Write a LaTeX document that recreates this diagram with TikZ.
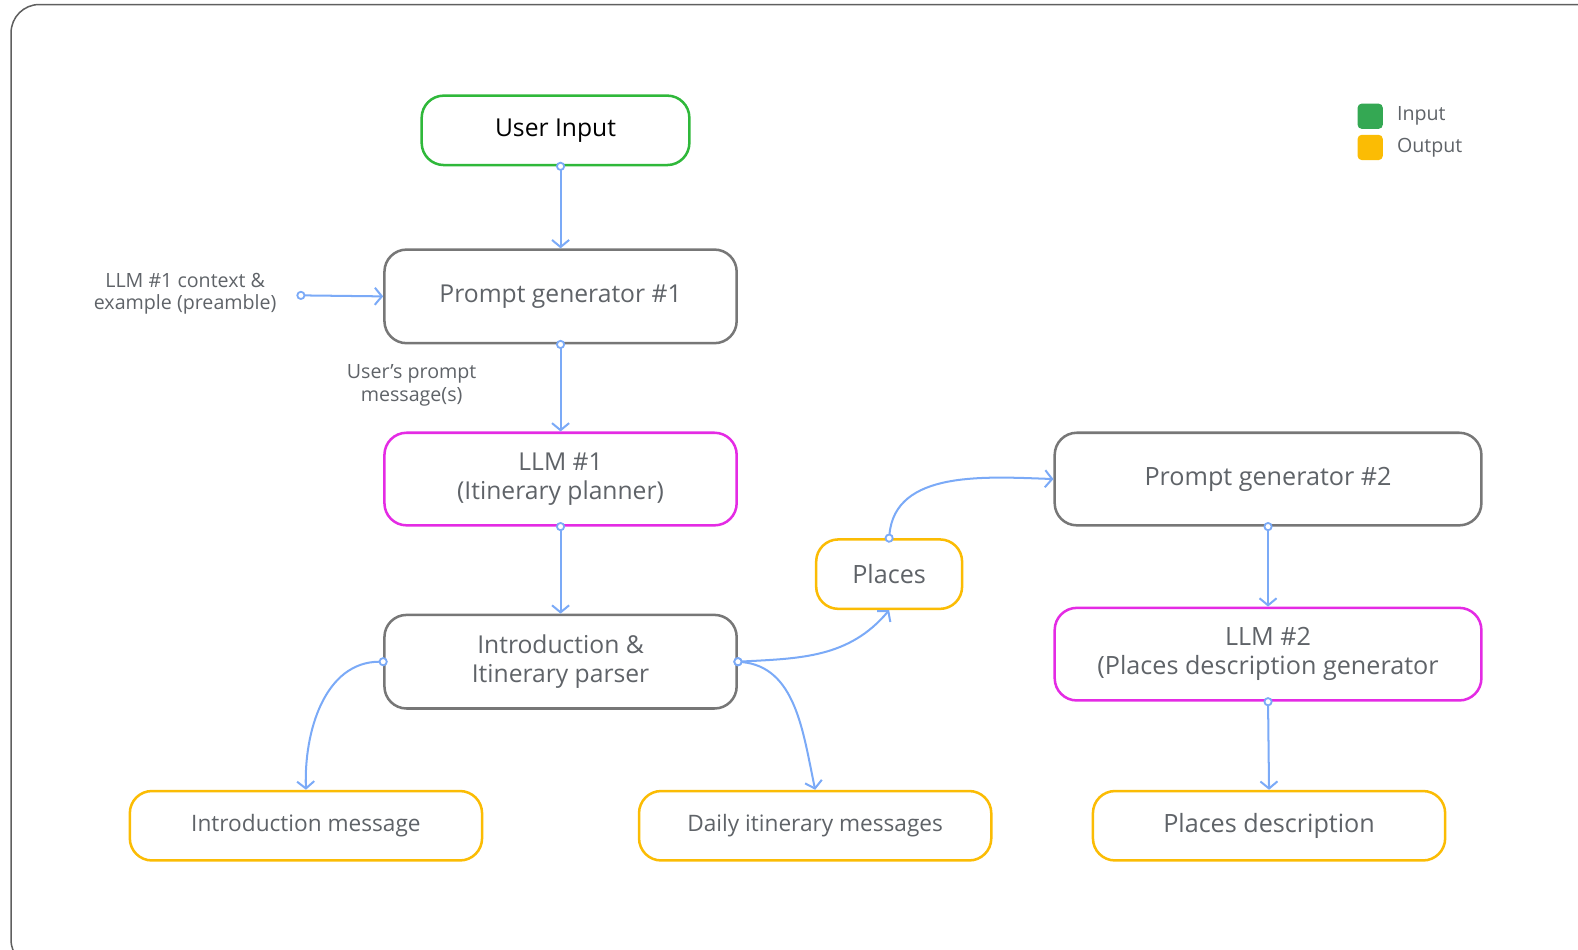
\documentclass[tikz,border=0pt]{standalone}
\usepackage{fontspec}
\setmainfont{Open Sans}
\usepackage{tikz}
\usetikzlibrary{arrows.meta}
\usetikzlibrary{positioning,calc}
\usepackage{xcolor}
\definecolor{ingreen}{HTML}{2FB83A}
\definecolor{legendgreen}{HTML}{34A853}
\definecolor{outyellow}{HTML}{FBBC04}
\definecolor{llmpink}{HTML}{E42BE4}
\definecolor{boxgray}{HTML}{777777}
\definecolor{textgray}{HTML}{5F6368}
\definecolor{linkblue}{HTML}{7BAAF7}
\newcommand{\fsz}[1]{\fontsize{#1}{1.15\dimexpr#1pt\relax}\selectfont}
\tikzset{
    box/.style={
        draw=boxgray,
        rounded corners=22pt,
        line width=2.5pt,
        fill=white,
        minimum width=350pt,
        minimum height=93pt,
        align=center,
        text=textgray,
        font=\fsz{24.5}
    },
    inbox/.style={box, draw=ingreen, minimum width=266pt, minimum height=69pt, text=black},
    outbox/.style={box, draw=outyellow, minimum height=69pt},
    llmbox/.style={box, draw=llmpink, minimum height=92pt},
    note/.style={text=textgray, align=center, font=\fsz{19.5}, inner sep=0pt},
    link/.style={
        draw=linkblue,
        line width=2pt,
        shorten <=-4.5pt,
        {Circle[open, fill=white, length=9pt, width=9pt, line width=1.8pt]}-{Straight Barb[length=7pt, width=17pt, line width=2pt]}
    }
}

\begin{document}
\begin{tikzpicture}[x=1pt, y=1pt]
  \useasboundingbox (0,0) rectangle (1568,-943);
  % Outer frame
  \draw[boxgray!80!black, line width=1.5pt, rounded corners=28pt] (11,-4.5) rectangle (1620,-962);

  % Legend
  \node[draw=none, fill=legendgreen, rounded corners=4pt, minimum size=25pt, inner sep=0pt] (leg1) at (1361.5,-115.5) {};
  \node[draw=none, fill=outyellow, rounded corners=4pt, minimum size=25pt, inner sep=0pt] (leg2) at (1361.5,-146.5) {};
  \node[text=textgray, font=\fsz{19.5}, anchor=west, inner sep=0pt] (leg1txt) at (1388,-115) {Input};
  \node[text=textgray, font=\fsz{19.5}, anchor=west, inner sep=0pt] (leg2txt) at (1388,-147) {Output};

  % First stage
  \node[inbox] (user) at (552,-129.5) {User Input};
  \node[box] (pg1) at (557,-294.5) {Prompt generator \#1};
  \node[llmbox] (llm1) at (557,-476) {LLM \#1\\(Itinerary planner)};
  \node[box] (parser) at (557,-657.5) {Introduction \&\\Itinerary parser};

  % Outputs of the parser
  \node[outbox, font=\fsz{22.5}] (intro) at (304,-820.5) {Introduction message};
  \node[outbox, font=\fsz{22.5}] (daily) at (810,-820.5) {Daily itinerary messages};
  \node[outbox, minimum width=145pt, font=\fsz{25}] (places) at (883.5,-570.5) {Places};

  % Second stage
  \node[box, minimum width=424pt, minimum height=92pt, font=\fsz{25}] (pg2) at (1260,-476) {Prompt generator \#2};
  \node[llmbox, minimum width=424pt, font=\fsz{25}] (llm2) at (1260,-650) {LLM \#2\\(Places description generator};
  \node[outbox, font=\fsz{25}] (pdesc) at (1261,-820.5) {Places description};

  % Side notes
  \node[note] (pre) at (184,-292) {LLM \#1 context \&\\example (preamble)};
  \coordinate (prestart) at (299,-293.5);
  \node[note] (msg) at (409,-383) {User’s prompt\\message(s)};

  % Connectors
  \draw[link] (pg1.north |- user.south) -- (pg1.north);
  \draw[link] (prestart) -- (pg1.west);
  \draw[link] (pg1.south) -- (llm1.north);
  \draw[link] (llm1.south) -- (parser.north);
  \draw[link] (parser.west) to[out=180, in=92] (intro.north);
  \draw[link] (parser.east) to[out=3, in=-130] (places.south);
  \draw[link] (parser.east) to[out=-5, in=102] (daily.north);
  \draw[link] (places.north) to[out=85, in=178] (pg2.west);
  \draw[link] (pg2.south) -- (llm2.north);
  \draw[link] (llm2.south) -- (pdesc.north);
\end{tikzpicture}
\end{document}
